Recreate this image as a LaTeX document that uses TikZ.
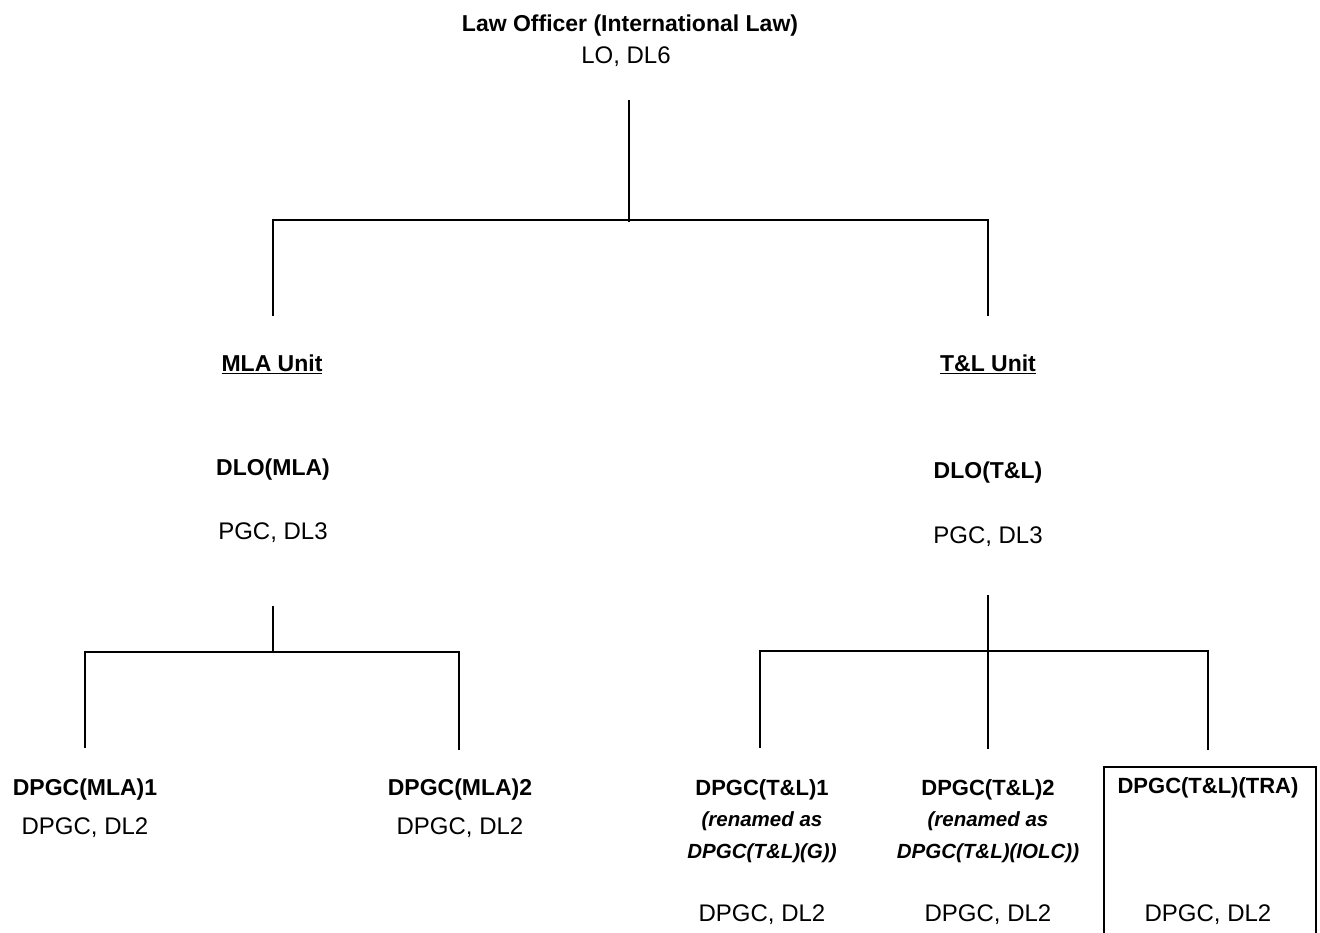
\documentclass[tikz,border=0pt]{standalone}
\usepackage{fontspec}
\setmainfont{Liberation Sans}
\begin{document}
\begin{tikzpicture}[x=1pt,y=-1pt,
  conn/.style={line width=1.4pt,draw=black},
  bt/.style={inner sep=0pt,anchor=center,font=\fontsize{23}{26}\selectfont\bfseries},
  bts/.style={inner sep=0pt,anchor=center,font=\fontsize{22}{26}\selectfont\bfseries},
  rt/.style={inner sep=0pt,anchor=center,font=\fontsize{24}{27}\selectfont},
  it/.style={inner sep=0pt,anchor=center,font=\fontsize{20.5}{24}\selectfont\bfseries\itshape}]
\useasboundingbox (0,0) rectangle (1320,933);
% top
\node[bt] (lo) at (630,26) {Law Officer (International Law)};
\node[rt] (lo2) at (626,57) {LO, DL6};
% units
\node[bt] (mla) at (272,364) {\underline{MLA Unit}};
\node[bt] (tl) at (988,364) {\underline{T\&L Unit}};
\node[bt] (dlomla) at (273,470) {DLO(MLA)};
\node[rt] (pgc1) at (273,533) {PGC, DL3};
\node[bt] (dlotl) at (988,473) {DLO(T\&L)};
\node[rt] (pgc2) at (988,537) {PGC, DL3};
% bottom left
\node[bt] (m1) at (85,790) {DPGC(MLA)1};
\node[rt] (m1b) at (85,828) {DPGC, DL2};
\node[bt] (m2) at (460,790) {DPGC(MLA)2};
\node[rt] (m2b) at (460,828) {DPGC, DL2};
% bottom right
\node[bts] (t1) at (762,790) {DPGC(T\&L)1};
\node[it] (t1r) at (762,821) {(renamed as};
\node[it] (t1n) at (762,853) {DPGC(T\&L)(G))};
\node[rt] (t1b) at (762,915) {DPGC, DL2};
\node[bts] (t2) at (988,790) {DPGC(T\&L)2};
\node[it] (t2r) at (988,821) {(renamed as};
\node[it] (t2n) at (988,853) {DPGC(T\&L)(IOLC))};
\node[rt] (t2b) at (988,915) {DPGC, DL2};
\node[bts] (t3) at (1208,788) {DPGC(T\&L)(TRA)};
\node[rt] (t3b) at (1208,915) {DPGC, DL2};
% box around TRA
\coordinate (bxbl) at (1104,940);
\coordinate (bxtl) at (1104,767);
\coordinate (bxtr) at (1316,767);
\coordinate (bxbr) at (1316,940);
\draw[conn] (bxbl) -- (bxtl) -- (bxtr) -- (bxbr);
% top connectors
\coordinate (c0) at (629,100);
\coordinate (c1) at (629,222);
\coordinate (jl) at (273,220);
\coordinate (jr) at (988,220);
\coordinate (dl) at (273,316);
\coordinate (dr) at (988,316);
\draw[conn] (c0) -- (c1);
\draw[conn] (dl) -- (jl) -- (jr) -- (dr);
% left subtree
\coordinate (l0) at (273,606);
\coordinate (l1) at (273,652);
\coordinate (la) at (85,652);
\coordinate (lb) at (459,652);
\coordinate (la2) at (85,748);
\coordinate (lb2) at (459,750);
\draw[conn] (l0) -- (l1);
\draw[conn] (la2) -- (la) -- (lb) -- (lb2);
% right subtree
\coordinate (r0) at (988,595);
\coordinate (r1) at (988,749);
\coordinate (ra) at (760,651);
\coordinate (rb) at (1208,651);
\coordinate (ra2) at (760,748);
\coordinate (rb2) at (1208,750);
\draw[conn] (r0) -- (r1);
\draw[conn] (ra2) -- (ra) -- (rb) -- (rb2);
\end{tikzpicture}
\end{document}
